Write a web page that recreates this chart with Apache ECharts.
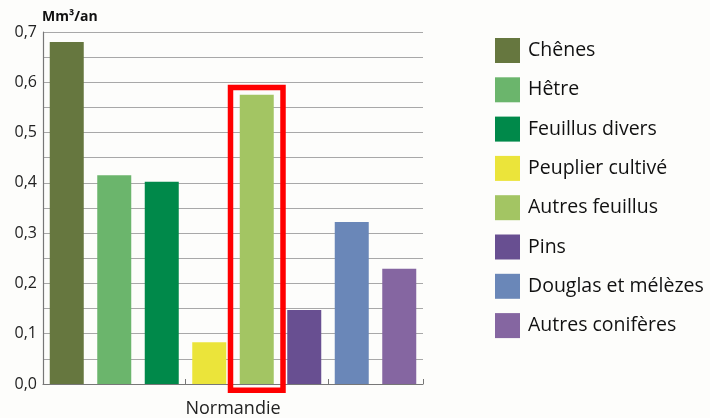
<!DOCTYPE html>
<html>
<head>
<meta charset="utf-8">
<script src="https://cdn.jsdelivr.net/npm/echarts@6/dist/echarts.min.js"></script>
<style>
html,body{margin:0;padding:0;background:#fdfdfb;}
#c{width:710px;height:418px;}
</style>
</head>
<body>
<div id="c"></div>
<script>
const categories = ['Chênes','Hêtre','Feuillus divers','Peuplier cultivé','Autres feuillus','Pins','Douglas et mélèzes','Autres conifères'];
const values = [0.68, 0.415, 0.402, 0.083, 0.575, 0.147, 0.322, 0.229];
const colors = ['#66773f','#6bb56c','#00894a','#ebe43a','#a3c563','#684f91','#6a87b8','#8566a1'];
const regionLabel = 'Normandie';
const unitLabel = 'Mm³/an';
const highlighted = 'Autres feuillus';

const font = '"Open Sans", "Noto Sans", sans-serif';
const chart = echarts.init(document.getElementById('c'));

const series = categories.map((name, i) => ({
  name: name,
  type: 'bar',
  stack: 'all',
  barWidth: 34,
  itemStyle: { color: colors[i] },
  data: categories.map((c, j) => j === i ? values[i] : '-')
}));

chart.setOption({
  backgroundColor: '#fdfdfb',
  animation: false,
  textStyle: { fontFamily: font },
  grid: { left: 43, right: 287, top: 32, bottom: 34, outerBoundsMode: 'none', containLabel: false },
  legend: {
    orient: 'vertical',
    left: 490,
    top: 33,
    itemWidth: 25,
    itemHeight: 25,
    itemGap: 14.3,
    icon: 'rect',
    selectedMode: false,
    textStyle: { fontSize: 19.5, color: '#111', fontFamily: font, padding: [0, 0, 0, 3] },
    data: categories
  },
  xAxis: {
    type: 'category',
    data: categories,
    name: regionLabel,
    nameLocation: 'middle',
    nameGap: 16,
    nameTextStyle: { fontSize: 18, color: '#222', fontFamily: font, verticalAlign: 'top' },
    axisLine: { lineStyle: { color: '#777', width: 1.2 } },
    axisTick: { show: true, inside: true, length: 5, lineStyle: { color: '#777' } },
    axisLabel: { show: false }
  },
  yAxis: {
    type: 'value',
    min: 0,
    max: 0.7,
    interval: 0.05,
    name: unitLabel,
    nameLocation: 'end',
    nameGap: 8,
    nameTextStyle: { fontSize: 14, fontWeight: 'bold', color: '#111', align: 'left', verticalAlign: 'bottom', padding: [0, 0, 0, -1] },
    axisLine: { show: true, lineStyle: { color: '#777', width: 1.2 } },
    axisTick: { show: false },
    splitLine: { lineStyle: { color: '#a8a8a8', width: 1.2 } },
    axisLabel: {
      fontSize: 16,
      color: '#222',
      margin: 6,
      formatter: function (v) {
        const t = Math.round(v * 100);
        if (t % 10 !== 0) return '';
        return (t / 100).toFixed(1).replace('.', ',');
      }
    }
  },
  series: series
});

// red highlight frame around the highlighted bar (computed from the axes)
const hi = categories.indexOf(highlighted);
const topPt = chart.convertToPixel({ seriesIndex: hi }, [hi, values[hi]]);
const basePt = chart.convertToPixel({ seriesIndex: hi }, [hi, 0]);
const lw = 5.5;
chart.setOption({
  graphic: [{
    type: 'rect',
    z: 100,
    shape: {
      x: topPt[0] - 29 + lw / 2,
      y: topPt[1] - 10 + lw / 2,
      width: 58 - lw,
      height: (basePt[1] + 9) - (topPt[1] - 10) - lw
    },
    style: { fill: 'none', stroke: '#ff0000', lineWidth: lw }
  }]
});
</script>
</body>
</html>
